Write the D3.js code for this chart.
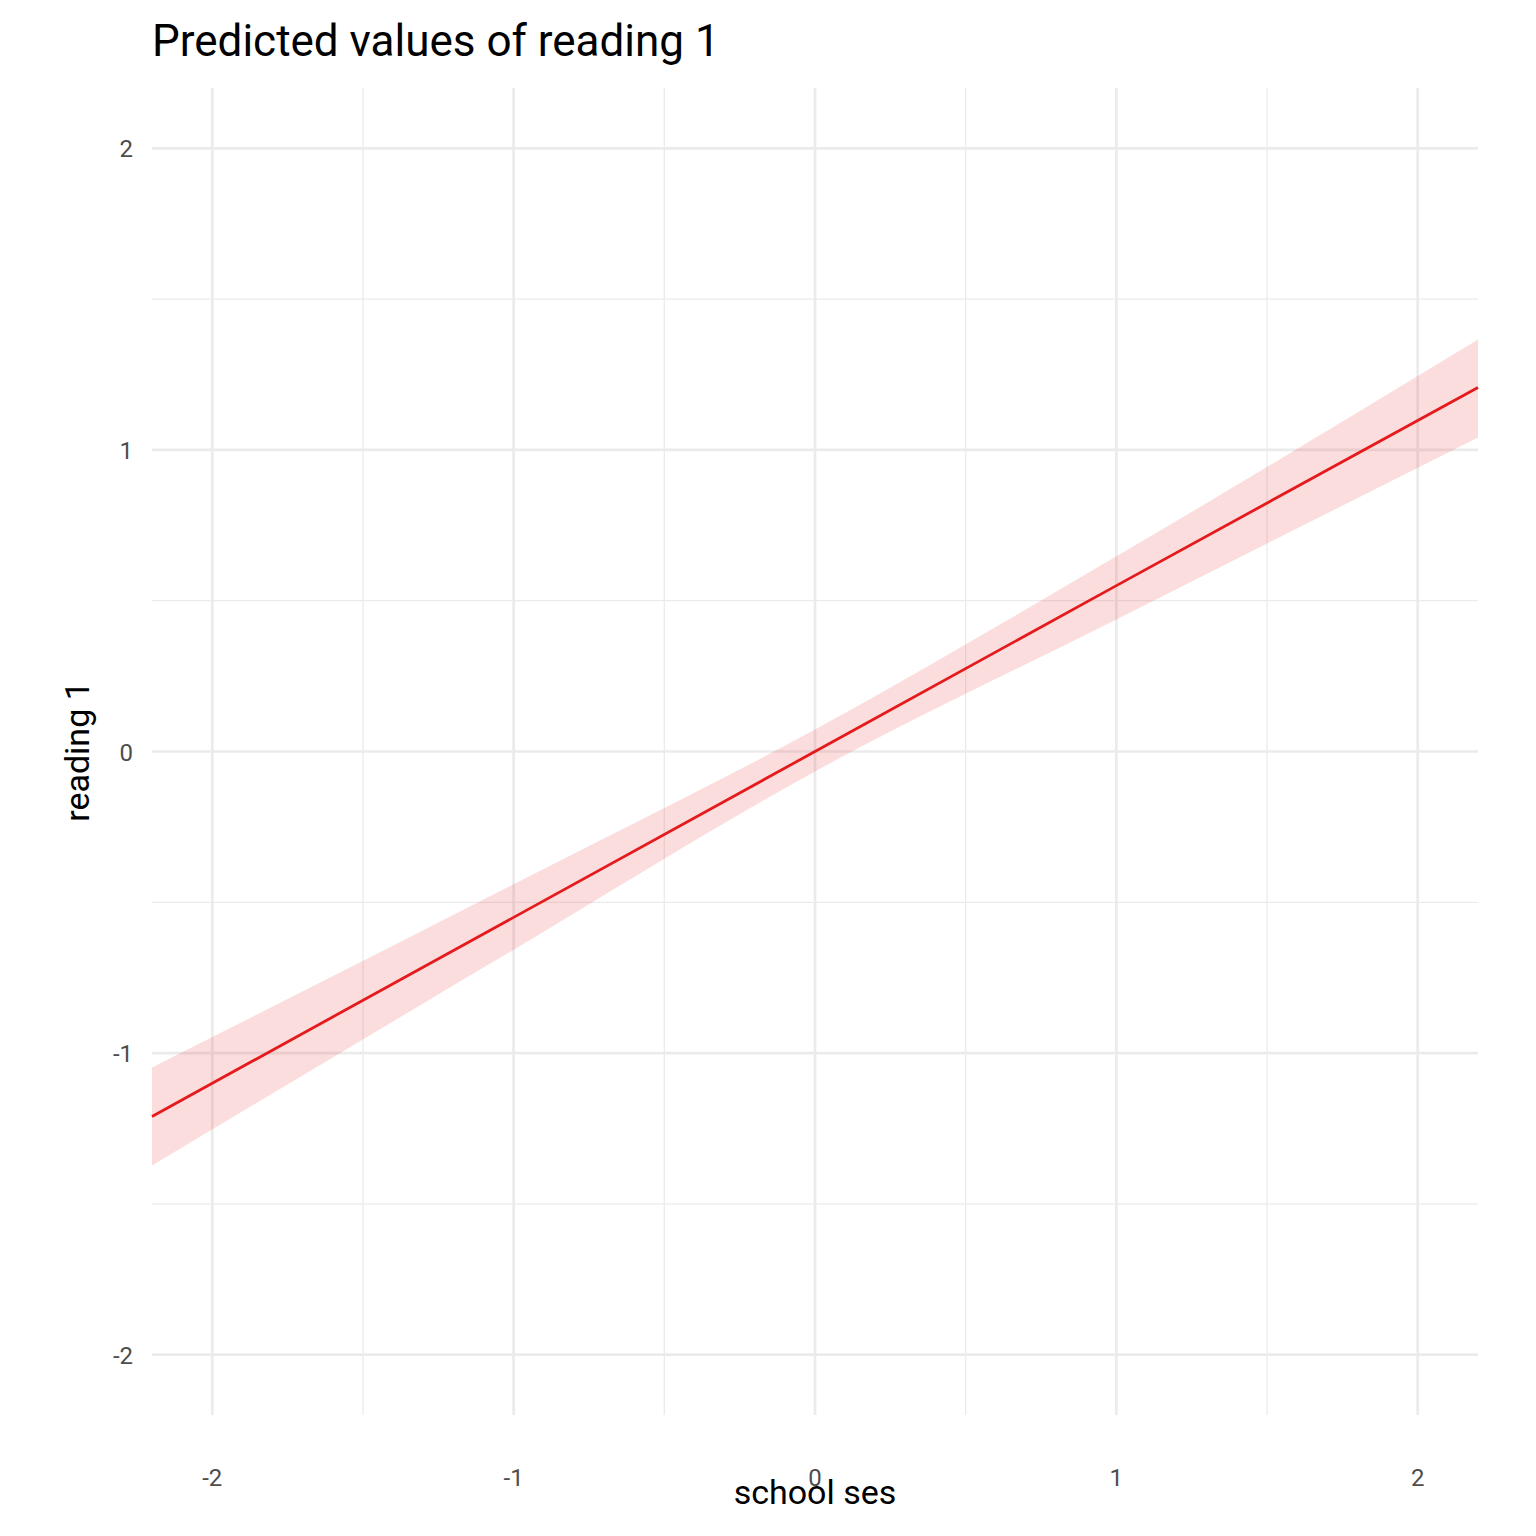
<!DOCTYPE html>
<html>
<head>
<meta charset="utf-8">
<script src="https://d3js.org/d3.v7.min.js"></script>
<style>
  body { margin: 0; background: #fff; }
  text { font-family: Roboto, sans-serif; }
</style>
</head>
<body>
<script>
// predicted values and confidence band
var ses = [-2.2, -1, 0, 1, 2.2];
var predicted = [-1.21, -0.55, 0, 0.55, 1.207];
var lower = [-1.373, -0.657, -0.066, 0.438, 1.041];
var upper = [-1.048, -0.44, 0.073, 0.647, 1.366];
var majorTicks = [-2, -1, 0, 1, 2];
var minorTicks = [-1.5, -0.5, 0.5, 1.5];

var W = 1536, H = 1536;
var pLeft = 152, pRight = 1478, pTop = 88, pBottom = 1415;

var svg = d3.select("body").append("svg").attr("width", W).attr("height", H);

var x = d3.scaleLinear().domain([-2.2, 2.2]).range([pLeft, pRight]);
var y = d3.scaleLinear().domain([-2.2, 2.2]).range([pBottom, pTop]);

var grid = svg.append("g");
// minor grid
grid.selectAll(".mx").data(minorTicks).enter().append("line")
  .attr("x1", d => x(d)).attr("x2", d => x(d)).attr("y1", pTop).attr("y2", pBottom)
  .attr("stroke", "#ebebeb").attr("stroke-width", 1.3);
grid.selectAll(".my").data(minorTicks).enter().append("line")
  .attr("y1", d => y(d)).attr("y2", d => y(d)).attr("x1", pLeft).attr("x2", pRight)
  .attr("stroke", "#ebebeb").attr("stroke-width", 1.3);
// major grid
grid.selectAll(".Mx").data(majorTicks).enter().append("line")
  .attr("x1", d => x(d)).attr("x2", d => x(d)).attr("y1", pTop).attr("y2", pBottom)
  .attr("stroke", "#ebebeb").attr("stroke-width", 2.7);
grid.selectAll(".My").data(majorTicks).enter().append("line")
  .attr("y1", d => y(d)).attr("y2", d => y(d)).attr("x1", pLeft).attr("x2", pRight)
  .attr("stroke", "#ebebeb").attr("stroke-width", 2.7);

var rows = ses.map((s, i) => ({s: s, p: predicted[i], lo: lower[i], hi: upper[i]}));

svg.append("path").datum(rows)
  .attr("d", d3.area().x(d => x(d.s)).y0(d => y(d.lo)).y1(d => y(d.hi)).curve(d3.curveMonotoneX))
  .attr("fill", "#e41a1c").attr("fill-opacity", 0.15);

svg.append("path").datum(rows)
  .attr("d", d3.line().x(d => x(d.s)).y(d => y(d.p)))
  .attr("fill", "none").attr("stroke", "#e41a1c").attr("stroke-width", 2.8);

// tick labels
svg.selectAll(".xl").data(majorTicks).enter().append("text")
  .attr("x", d => x(d)).attr("y", 1486).attr("text-anchor", "middle")
  .attr("font-size", 24).attr("fill", "#4d4d4d").text(d => d);
svg.selectAll(".yl").data(majorTicks).enter().append("text")
  .attr("x", 133).attr("y", d => y(d) + 9).attr("text-anchor", "end")
  .attr("font-size", 24).attr("fill", "#4d4d4d").text(d => d);

// titles
svg.append("text").attr("x", 152).attr("y", 56).attr("font-size", 44).attr("fill", "#000")
  .text("Predicted values of reading 1");
svg.append("text").attr("x", (pLeft + pRight) / 2).attr("y", 1504).attr("text-anchor", "middle")
  .attr("font-size", 34).attr("fill", "#000").text("school ses");
svg.append("text").attr("transform", "translate(89," + y(0) + ") rotate(-90)")
  .attr("text-anchor", "middle").attr("font-size", 34).attr("fill", "#000").text("reading 1");
</script>
</body>
</html>
